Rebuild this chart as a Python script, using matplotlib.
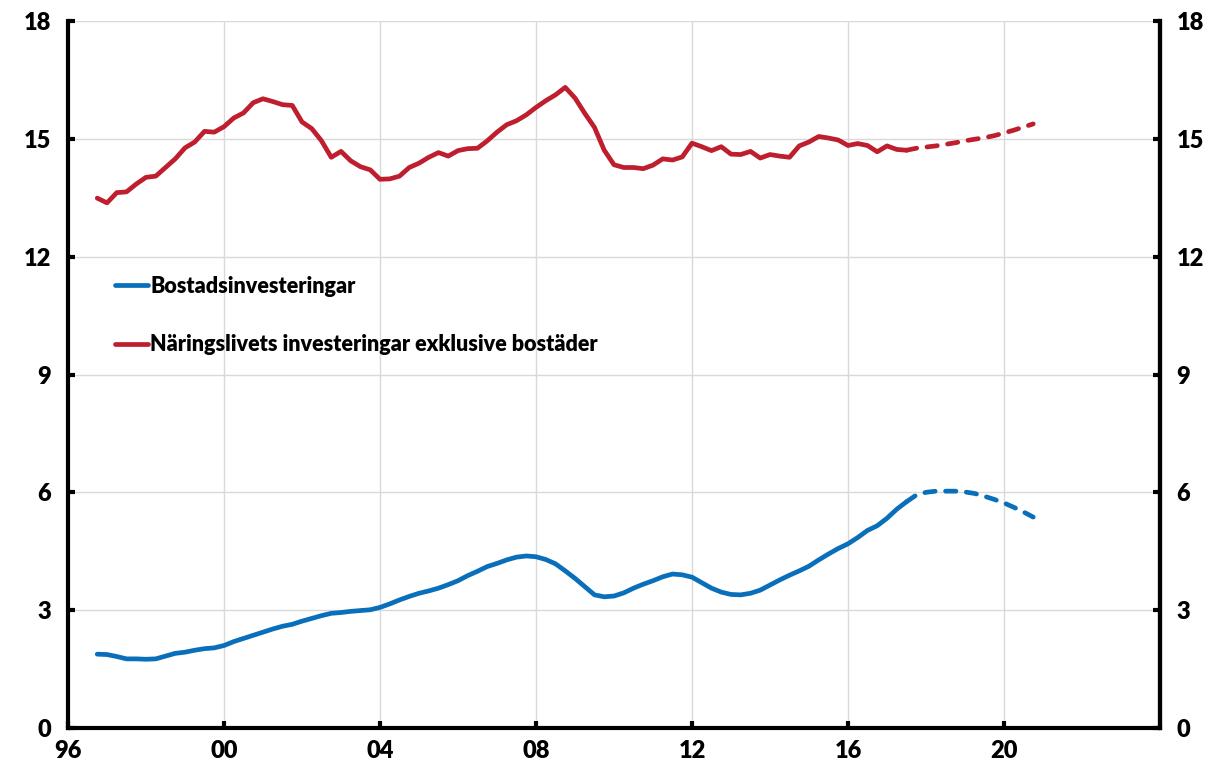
import matplotlib.pyplot as plt
import numpy as np

# quarterly data, first point 1996 Q4
start_year = 1996.75

red_actual = [13.49, 13.37, 13.63, 13.65, 13.85, 14.02, 14.05, 14.27, 14.49, 14.77,
              14.92, 15.19, 15.17, 15.31, 15.53, 15.66, 15.92, 16.02, 15.95, 15.87,
              15.85, 15.43, 15.26, 14.95, 14.53, 14.68, 14.44, 14.29, 14.21, 13.97,
              13.98, 14.05, 14.27, 14.38, 14.53, 14.65, 14.56, 14.70, 14.75, 14.76,
              14.95, 15.17, 15.36, 15.46, 15.61, 15.80, 15.97, 16.12, 16.31, 16.04,
              15.65, 15.29, 14.71, 14.34, 14.27, 14.27, 14.24, 14.33, 14.49, 14.46,
              14.54, 14.89, 14.80, 14.70, 14.80, 14.61, 14.60, 14.68, 14.51, 14.60,
              14.56, 14.53, 14.82, 14.92, 15.06, 15.02, 14.97, 14.83, 14.88, 14.83,
              14.67, 14.82, 14.73, 14.71]
red_forecast = [14.71, 14.76, 14.79, 14.82, 14.86, 14.90, 14.95, 14.99, 15.03, 15.08,
                15.15, 15.22, 15.30, 15.38]

blue_actual = [1.88, 1.87, 1.82, 1.76, 1.76, 1.75, 1.76, 1.83, 1.90, 1.93,
               1.98, 2.02, 2.04, 2.10, 2.20, 2.28, 2.36, 2.44, 2.52, 2.59,
               2.64, 2.72, 2.79, 2.86, 2.92, 2.94, 2.97, 2.99, 3.01, 3.07,
               3.16, 3.26, 3.35, 3.43, 3.49, 3.56, 3.65, 3.75, 3.88, 3.99,
               4.11, 4.19, 4.28, 4.35, 4.38, 4.36, 4.29, 4.18, 4.00, 3.81,
               3.60, 3.39, 3.34, 3.36, 3.44, 3.56, 3.66, 3.75, 3.85, 3.92,
               3.90, 3.84, 3.70, 3.56, 3.46, 3.40, 3.39, 3.43, 3.51, 3.64,
               3.77, 3.89, 4.00, 4.12, 4.28, 4.43, 4.57, 4.69, 4.85, 5.03,
               5.15, 5.34, 5.57, 5.76]
blue_forecast = [5.76, 5.93, 6.00, 6.03, 6.03, 6.03, 6.01, 5.97, 5.90, 5.82,
                 5.73, 5.62, 5.50, 5.37]

label_blue = "Bostadsinvesteringar"
label_red = "Näringslivets investeringar exklusive bostäder"

x_ticks = [1996, 2000, 2004, 2008, 2012, 2016, 2020]
x_labels = ["96", "00", "04", "08", "12", "16", "20"]
y_ticks = [0, 3, 6, 9, 12, 15, 18]

blue = "#0a6fba"
red = "#be1e2d"

plt.rcParams['font.family'] = ['Lato', 'DejaVu Sans']
plt.rcParams['font.weight'] = 'heavy'

x_act = start_year + 0.25 * np.arange(len(red_actual))
x_fc = x_act[-1] + 0.25 * np.arange(len(red_forecast))

fig = plt.figure(figsize=(12.12, 7.75), dpi=100)
ax = fig.add_axes([68 / 1212, 47 / 775, 1092 / 1212, 707 / 775])

lw = 3.4
ax.plot(x_act, blue_actual, color=blue, lw=lw, solid_capstyle='round', label=label_blue)
ax.plot(x_act, red_actual, color=red, lw=lw, solid_capstyle='round', label=label_red)
ax.plot(x_fc, blue_forecast, color=blue, lw=lw, linestyle=(0, (2.2, 2.2)), dash_capstyle='round')
ax.plot(x_fc, red_forecast, color=red, lw=lw, linestyle=(0, (2.2, 2.2)), dash_capstyle='round')

ax.set_xlim(1996, 2024)
ax.set_ylim(0, 18)
ax.set_xticks(x_ticks)
ax.set_xticklabels(x_labels)
ax.set_yticks(y_ticks)
ax.grid(True, color="#d9d9d9", lw=1)
ax.set_axisbelow(True)

for side in ["left", "bottom", "right"]:
    ax.spines[side].set_linewidth(3)
ax.spines["top"].set_visible(False)
ax.tick_params(axis='both', direction='in', length=5, width=3, labelsize=17, pad=12)
ax.tick_params(axis='x', pad=9)

ax2 = ax.twinx()
ax2.set_ylim(0, 18)
ax2.set_yticks(y_ticks)
ax2.spines["top"].set_visible(False)
ax2.spines["right"].set_linewidth(3)
ax2.tick_params(axis='y', direction='in', length=5, width=3, labelsize=17, pad=12)

leg = ax.legend(loc='upper left', bbox_to_anchor=(0.025, 0.667), frameon=False,
                fontsize=15.5, handlelength=1.55, handletextpad=0.1, labelspacing=1.75)
for line in leg.get_lines():
    line.set_linewidth(3.4)

fig.savefig("out.png", dpi=100)
